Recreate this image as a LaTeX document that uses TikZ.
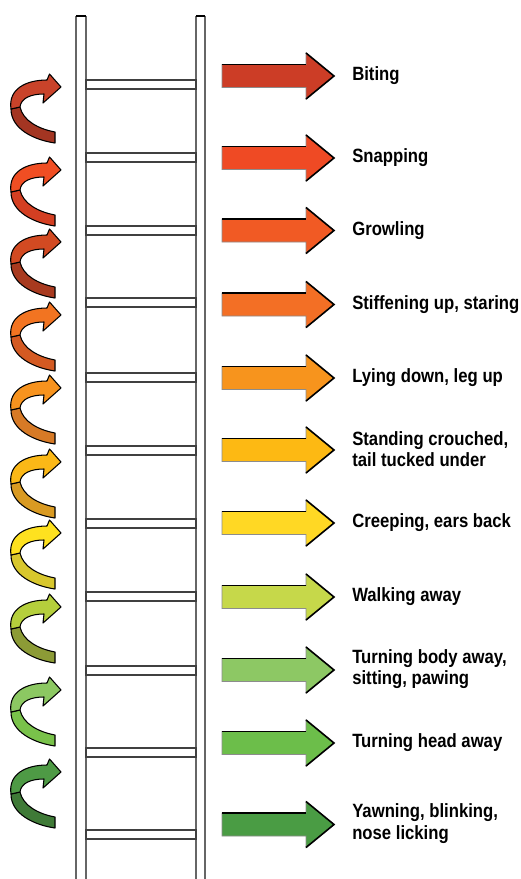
\documentclass[tikz,border=0pt]{standalone}
\usepackage{fontspec}
\newfontfamily\lblfont[FakeStretch=0.87]{Liberation Sans}
\definecolor{cA1}{HTML}{C9432A}\definecolor{cA2}{HTML}{A33522}
\definecolor{cB1}{HTML}{F04E23}\definecolor{cB2}{HTML}{D43F22}
\definecolor{cC1}{HTML}{D24A22}\definecolor{cC2}{HTML}{A83A1F}
\definecolor{cD1}{HTML}{F27421}\definecolor{cD2}{HTML}{D45A22}
\definecolor{cE1}{HTML}{F7931E}\definecolor{cE2}{HTML}{D77A26}
\definecolor{cF1}{HTML}{FBB817}\definecolor{cF2}{HTML}{D99A22}
\definecolor{cG1}{HTML}{FEE11F}\definecolor{cG2}{HTML}{D8C72D}
\definecolor{cH1}{HTML}{B5CF3C}\definecolor{cH2}{HTML}{8C9B36}
\definecolor{cI1}{HTML}{8CC862}\definecolor{cI2}{HTML}{79C24A}
\definecolor{cJ1}{HTML}{4E9A45}\definecolor{cJ2}{HTML}{3F7A37}
\definecolor{r1}{HTML}{CC3D26}\definecolor{r2}{HTML}{EF4A24}
\definecolor{r3}{HTML}{F15A24}\definecolor{r4}{HTML}{F36F25}
\definecolor{r5}{HTML}{F7941D}\definecolor{r6}{HTML}{FDB913}
\definecolor{r7}{HTML}{FFD824}\definecolor{r8}{HTML}{C6D84A}
\definecolor{r9}{HTML}{8DC864}\definecolor{r10}{HTML}{6CBE4A}
\definecolor{r11}{HTML}{4A9C44}
\tikzset{
  railline/.style={draw=black!60, line width=1.1pt},
  capline/.style={draw=black, line width=1.6pt},
  rungbox/.style={draw=black!75, line width=1pt, fill=white},
  curl/.style={draw=black, line width=0.8pt, line join=round},
  blockbody/.style={draw=black!45, line width=0.6pt},
  blockedge/.style={draw=black, line width=1.2pt, line join=miter},
  lbl/.style={anchor=west, align=left, inner sep=0pt,
    font=\lblfont\bfseries\fontsize{14.4}{16}\selectfont}
}
\newcommand{\curlarrow}[3]{%
  \begin{scope}[shift={(61,#1)}]
    \filldraw[curl, fill=#3] (-50,22) .. controls (-50,42) and (-27,53) .. (-6,56)
      -- (-6,45) .. controls (-22,42) and (-38,34) .. (-41,20) -- cycle;
    \filldraw[curl, fill=#2] (-50,22) .. controls (-53,2) and (-35,-7) .. (-14,-7)
      -- (-11.5,-13) -- (0,0) -- (-18,16) -- (-17,7)
      .. controls (-30,7) and (-40,11) .. (-41,20) -- cycle;
  \end{scope}}
\newcommand{\blockarrow}[2]{%
  \filldraw[blockbody, fill=#2] (222,#1-11.5) -- (306,#1-11.5) -- (306,#1-23) -- (334,#1)
    -- (306,#1+23) -- (306,#1+11.5) -- (222,#1+11.5) -- cycle;
  \draw[blockedge] (222,#1-11.5) -- (306,#1-11.5);
  \draw[blockedge] (306,#1-23) -- (334,#1) -- (306,#1+23);}
\begin{document}
\begin{tikzpicture}[x=0.75pt, y=-0.75pt]
\useasboundingbox[fill=white] (0,0) rectangle (521,879);
% ladder rails
\foreach \a/\b in {76/86,196/205}{
  \draw[railline] (\a,16) -- (\a,880);
  \draw[railline] (\b,16) -- (\b,880);
  \draw[capline] (\a,16) -- (\b,16);
}
% rungs
\foreach \r in {80,153,226,298,373,446,519,592,666,748,830}{
  \draw[rungbox] (86,\r) rectangle (196,\r+9);
}
% curled arrows
\curlarrow{87}{cA1}{cA2}
\curlarrow{170}{cB1}{cB2}
\curlarrow{242}{cC1}{cC2}
\curlarrow{315}{cD1}{cD2}
\curlarrow{388}{cE1}{cE2}
\curlarrow{462}{cF1}{cF2}
\curlarrow{533}{cG1}{cG2}
\curlarrow{607}{cH1}{cH2}
\curlarrow{690}{cI1}{cI2}
\curlarrow{772}{cJ1}{cJ2}
% block arrows
\blockarrow{76}{r1}
\blockarrow{158}{r2}
\blockarrow{230.5}{r3}
\blockarrow{304.5}{r4}
\blockarrow{378}{r5}
\blockarrow{450}{r6}
\blockarrow{523}{r7}
\blockarrow{597}{r8}
\blockarrow{670}{r9}
\blockarrow{743}{r10}
\blockarrow{824.5}{r11}
% labels
\node[lbl] (t1) at (352,76) {Biting};
\node[lbl] (t2) at (352,158) {Snapping};
\node[lbl] (t3) at (352,230.5) {Growling};
\node[lbl] (t4) at (352,304.5) {Stiffening up, staring};
\node[lbl] (t5) at (352,378) {Lying down, leg up};
\node[lbl] (t6) at (352,449) {Standing crouched,\\tail tucked under};
\node[lbl] (t7) at (352,523) {Creeping, ears back};
\node[lbl] (t8) at (352,597) {Walking away};
\node[lbl] (t9) at (352,669) {Turning body away,\\sitting, pawing};
\node[lbl] (t10) at (352,743) {Turning head away};
\node[lbl] (t11) at (352,823.5) {Yawning, blinking,\\nose licking};
\end{tikzpicture}
\end{document}
